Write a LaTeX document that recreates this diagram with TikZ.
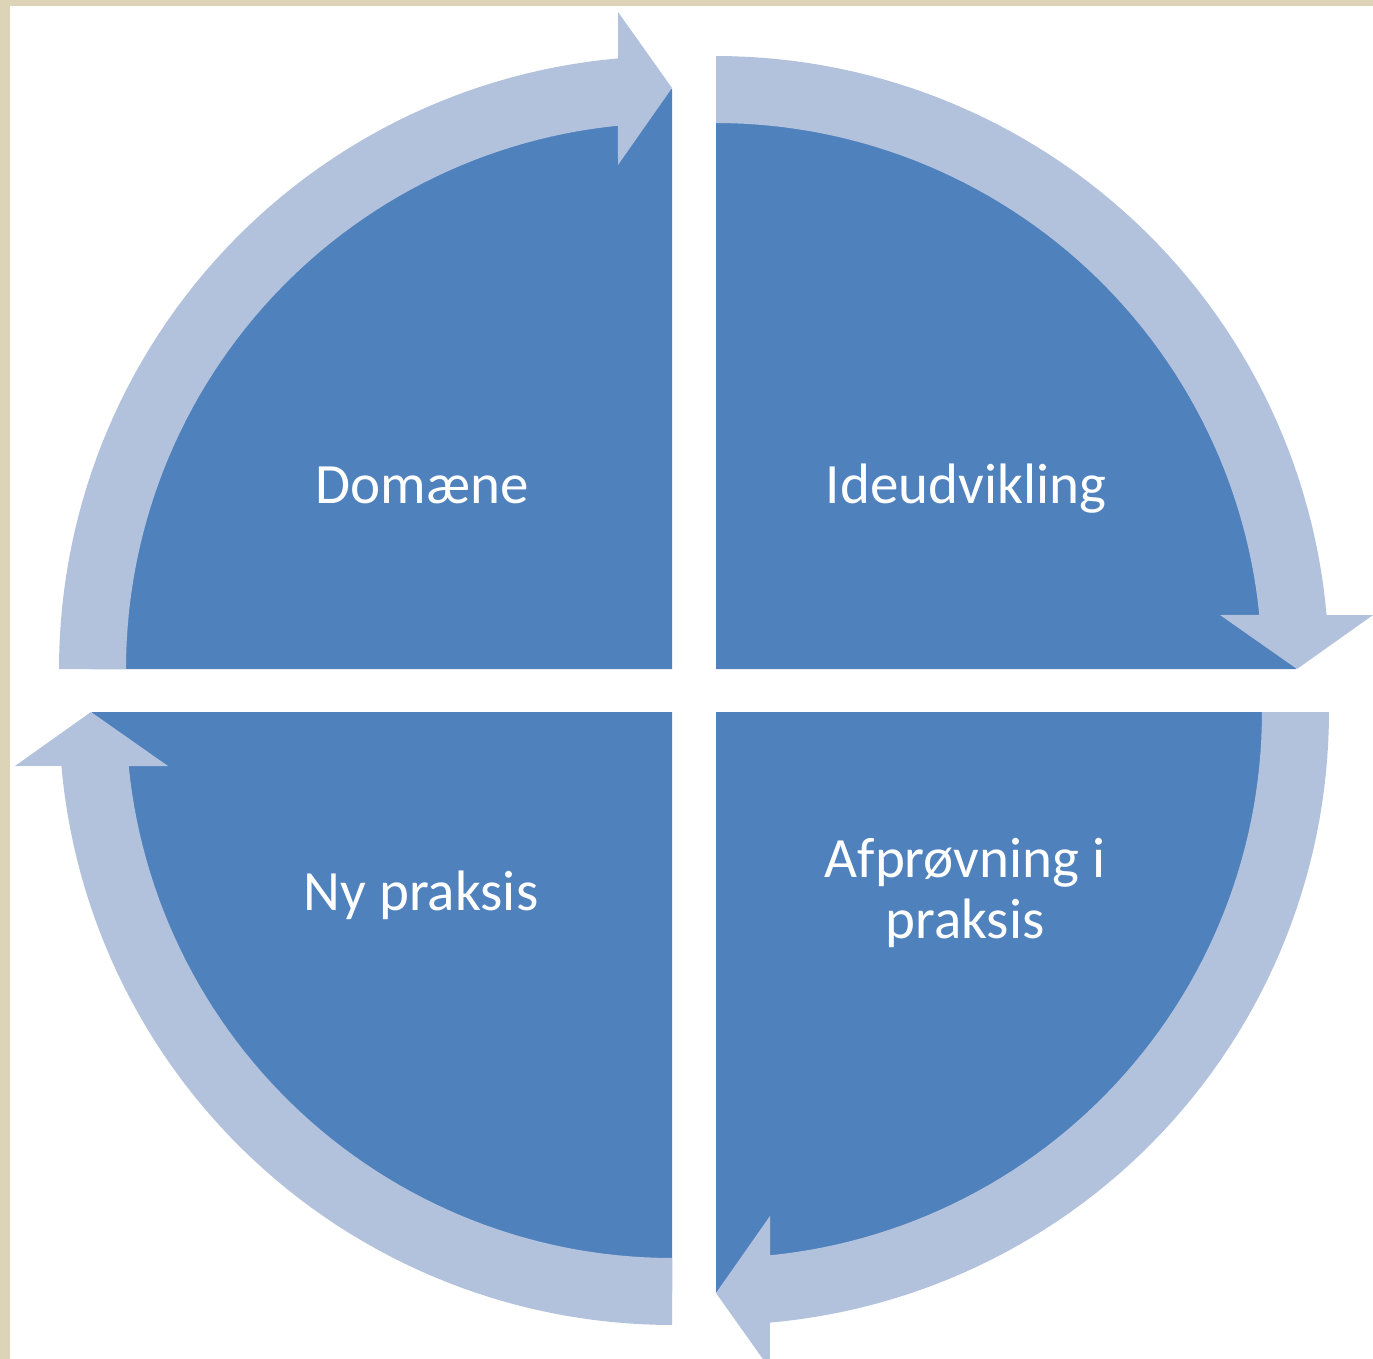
\documentclass[tikz,border=0pt]{standalone}
\usepackage{fontspec}
\setmainfont{Carlito}
\definecolor{sectorblue}{RGB}{79,129,189}
\definecolor{arrowblue}{RGB}{179,194,220}
\definecolor{beige}{RGB}{221,211,182}
\tikzset{
  sector/.style={fill=sectorblue, draw=none},
  cyclearrow/.style={fill=arrowblue, draw=none},
  lab/.style={text=white, font=\fontsize{28.5}{30.5}\selectfont, inner sep=0pt, align=center},
}
\newcommand{\quadrantshape}{%
  \path[sector] (0,0) -- (180:580) -- plot[domain=180:270, samples=60] (\x:580) -- cycle;
  \path[cyclearrow] (180:613) -- plot[domain=180:264.95, samples=60] (\x:613)
     -- (-54,-657) -- (0,-581) -- (-54,-504)
     -- plot[domain=264.32:180, samples=60] (\x:546) -- cycle;
}
\begin{document}
\begin{tikzpicture}[x=0.5pt, y=-0.5pt]
\useasboundingbox (0,0) rectangle (1373,1359);
\fill[white] (0,0) rectangle (1373,1359);
\fill[beige] (0,0) rectangle (10,1359);
\fill[beige] (0,0) rectangle (1373,6);
\coordinate (ctl) at (672,669);
\coordinate (ctr) at (716,669);
\coordinate (cbr) at (716,712);
\coordinate (cbl) at (672,712);
\begin{scope}[shift={(ctl)}]\quadrantshape\end{scope}
\begin{scope}[shift={(ctr)}, rotate=-90]\quadrantshape\end{scope}
\begin{scope}[shift={(cbr)}, rotate=-180]\quadrantshape\end{scope}
\begin{scope}[shift={(cbl)}, rotate=90]\quadrantshape\end{scope}
\node[lab, anchor=base] (domaene) at (422,503) {Domæne};
\node[lab, anchor=base] (ideud) at (966,503) {Ideudvikling};
\node[lab, anchor=base] (nypraksis) at (421,910) {Ny praksis};
\node[lab, anchor=base] (afproev) at (965,938) {Afprøvning i\\praksis};
\end{tikzpicture}
\end{document}
